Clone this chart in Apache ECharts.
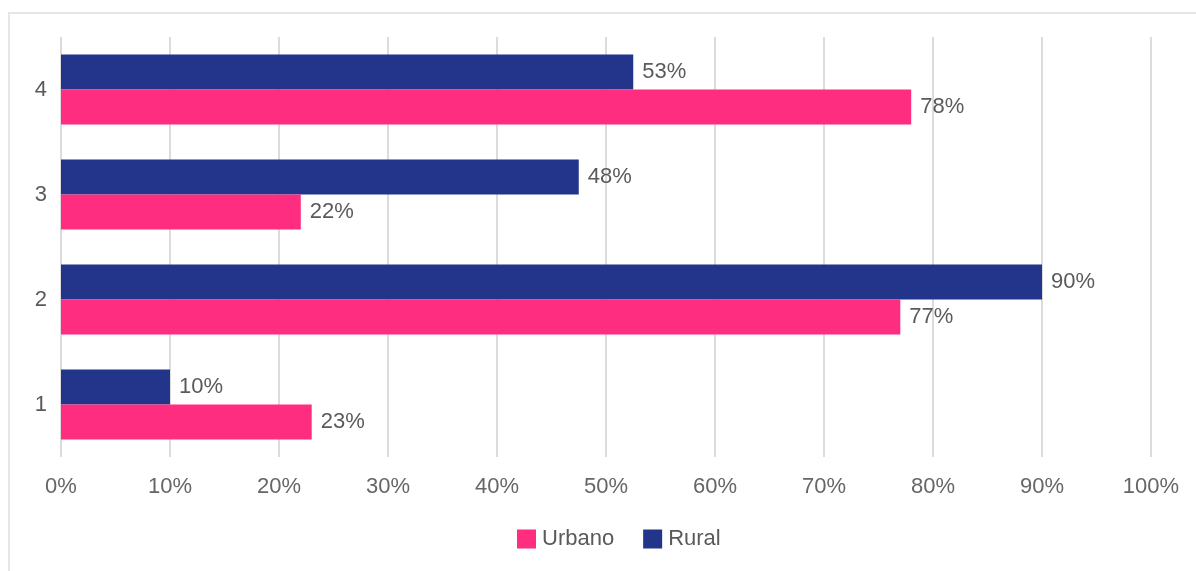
<!DOCTYPE html>
<html>
<head>
<meta charset="utf-8">
<script src="https://cdn.jsdelivr.net/npm/echarts@6/dist/echarts.min.js"></script>
<style>
html,body{margin:0;padding:0;background:#fff;}
#frame{position:absolute;left:8px;top:12px;width:1200px;height:570px;border-left:2px solid #e6e6e6;border-top:2px solid #e6e6e6;box-sizing:border-box;}
#chart{position:absolute;left:0;top:0;width:1196px;height:571px;}
</style>
</head>
<body>
<div id="frame"></div>
<div id="chart"></div>
<script>
const categories = ['1', '2', '3', '4'];
const urbano = [23, 77, 22, 78];
const rural = [10, 90, 47.5, 52.5];
const xTicks = [0, 10, 20, 30, 40, 50, 60, 70, 80, 90, 100];

const FONT = 'Liberation Sans, Arial, sans-serif';
const FS = 22;
const chart = echarts.init(document.getElementById('chart'));
const labelCfg = {
  show: true, position: 'right', distance: 9,
  formatter: p => Math.round(p.value) + '%',
  color: '#5a5a5a', fontSize: FS, fontFamily: FONT
};
chart.setOption({
  animation: false,
  grid: { left: 61, right: 45, top: 37, bottom: 114, containLabel: false },
  legend: {
    data: ['Urbano', 'Rural'],
    bottom: 16, left: 512,
    icon: 'rect', itemWidth: 19, itemHeight: 19, itemGap: 29,
    textStyle: { color: '#5a5a5a', fontSize: FS, fontFamily: FONT, padding: [0, 0, 0, 1] }
  },
  xAxis: {
    type: 'value', min: xTicks[0], max: xTicks[xTicks.length - 1], interval: 10,
    axisLine: { show: false }, axisTick: { show: false },
    splitLine: { lineStyle: { color: '#dcdcdc', width: 2 } },
    axisLabel: { formatter: '{value}%', color: '#666', fontSize: FS, fontFamily: FONT, margin: 19 }
  },
  yAxis: {
    type: 'category', data: categories,
    axisLine: { show: false }, axisTick: { show: false },
    axisLabel: { color: '#5a5a5a', fontSize: FS, fontFamily: FONT, margin: 14 }
  },
  series: [
    { name: 'Rural', type: 'bar', data: rural, barWidth: 35, barGap: '0%',
      itemStyle: { color: '#22358a' }, label: labelCfg },
    { name: 'Urbano', type: 'bar', data: urbano, barWidth: 35, barGap: '0%',
      itemStyle: { color: '#ff2d80' }, label: labelCfg }
  ]
});
</script>
</body>
</html>
